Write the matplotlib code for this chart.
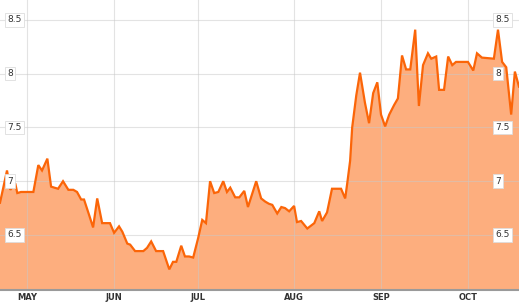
import matplotlib
matplotlib.use("Agg")
import matplotlib.pyplot as plt
import matplotlib.transforms as mtransforms

# trading-day index (0 = first trading day of May) and closing value
days = [-6.6, -4.9, -4.1, -2.9, -2.4, -1.5, 1.5, 2.7, 3.6, 4.9, 5.8, 6.6, 7.5,
        8.7, 10.0, 11.2, 12.1, 13.1, 13.8, 15.0, 16.0, 17.0, 18.2, 20.1, 21.1,
        22.3, 23.1, 24.3, 25.0, 26.2, 28.2, 29.1, 30.1, 31.3, 33.0, 34.5, 35.4,
        36.2, 37.4, 38.3, 39.3, 40.3, 41.5, 42.5, 43.4, 44.4, 45.4, 46.4, 47.6,
        48.5, 49.3, 50.5, 51.5, 52.7, 53.6, 55.6, 56.8, 57.8, 58.7, 59.5, 60.7,
        61.7, 62.6, 63.6, 64.8, 65.5, 66.5, 68.0, 69.7, 70.9, 71.6, 72.8, 74.0,
        76.2, 77.2, 77.7, 78.4, 78.9, 79.9, 80.8, 82.0, 83.0, 84.0, 85.0, 85.9,
        86.9, 87.9, 89.1, 90.0, 91.0, 92.0, 93.0, 94.2, 95.1, 96.1, 97.3, 98.1,
        99.3, 100.0, 101.2, 102.2, 103.2, 104.1, 107.0, 108.3, 109.2, 110.4,
        113.3, 114.3, 115.3, 116.3, 117.5, 118.4, 119.4]
prices = [6.80, 7.10, 6.92, 6.98, 6.89, 6.90, 6.90, 7.15, 7.10, 7.21, 6.95, 6.94,
          6.93, 7.00, 6.92, 6.92, 6.90, 6.83, 6.83, 6.69, 6.57, 6.84, 6.61, 6.61,
          6.52, 6.58, 6.53, 6.42, 6.41, 6.35, 6.35, 6.38, 6.44, 6.35, 6.35, 6.18,
          6.25, 6.25, 6.40, 6.30, 6.30, 6.29, 6.47, 6.64, 6.61, 7.00, 6.89, 6.90,
          7.00, 6.90, 6.94, 6.85, 6.85, 6.91, 6.76, 7.00, 6.84, 6.81, 6.79, 6.78,
          6.70, 6.76, 6.75, 6.72, 6.77, 6.62, 6.63, 6.56, 6.61, 6.72, 6.63, 6.71,
          6.93, 6.93, 6.84, 6.98, 7.19, 7.50, 7.80, 8.01, 7.73, 7.54, 7.82, 7.92,
          7.62, 7.51, 7.62, 7.71, 7.77, 8.17, 8.04, 8.04, 8.41, 7.70, 8.08, 8.19,
          8.14, 8.16, 7.85, 7.85, 8.16, 8.08, 8.11, 8.11, 8.03, 8.19, 8.15, 8.14,
          8.41, 8.11, 8.06, 7.62, 8.02, 7.88]

month_pos = [0, 21.1, 41.5, 64.8, 85.9, 107.0]
month_labels = ["MAY", "JUN", "JUL", "AUG", "SEP", "OCT"]
y_ticks = [6.5, 7, 7.5, 8, 8.5]
y_labels = ["6.5", "7", "7.5", "8", "8.5"]

fig = plt.figure(figsize=(5.19, 3.04), dpi=100)
ax = fig.add_axes([0, 14 / 304, 1, 290 / 304])

ax.fill_between(days, prices, 5.0, color="#fdae7e", lw=0, zorder=1)
ax.plot(days, prices, color="#fb6508", lw=1.6, zorder=3, solid_joinstyle="miter")

ax.set_xlim(-6.6, 119.4)
ax.set_ylim(5.988, 8.686)

ax.set_xticks(month_pos)
ax.set_xticklabels(month_labels, fontsize=6, fontweight="bold", color="#333333")
ax.set_yticks(y_ticks)
ax.set_yticklabels([])
ax.tick_params(axis="both", length=0, pad=2.5)
ax.tick_params(axis="y", left=False, labelleft=False)
ax.grid(True, color="#c8c8c8", alpha=0.5, lw=0.8, zorder=2)
ax.set_axisbelow(False)

for side in ["top", "left", "right"]:
    ax.spines[side].set_visible(False)
ax.spines["bottom"].set_color("#9a9a9a")
ax.spines["bottom"].set_linewidth(1.5)
ax.spines["bottom"].set_zorder(4)

trans = mtransforms.blended_transform_factory(ax.transAxes, ax.transData)
box = dict(boxstyle="square,pad=0.25", fc="white", ec="#dddddd", lw=0.6)
for val, lab in zip(y_ticks, y_labels):
    ax.text(0.014, val, lab, transform=trans, fontsize=6.5, color="#333333",
            ha="left", va="center", bbox=box, zorder=5)
    ax.text(0.954, val, lab, transform=trans, fontsize=6.5, color="#333333",
            ha="left", va="center", bbox=box, zorder=5)

fig.savefig("out.png", dpi=100)
